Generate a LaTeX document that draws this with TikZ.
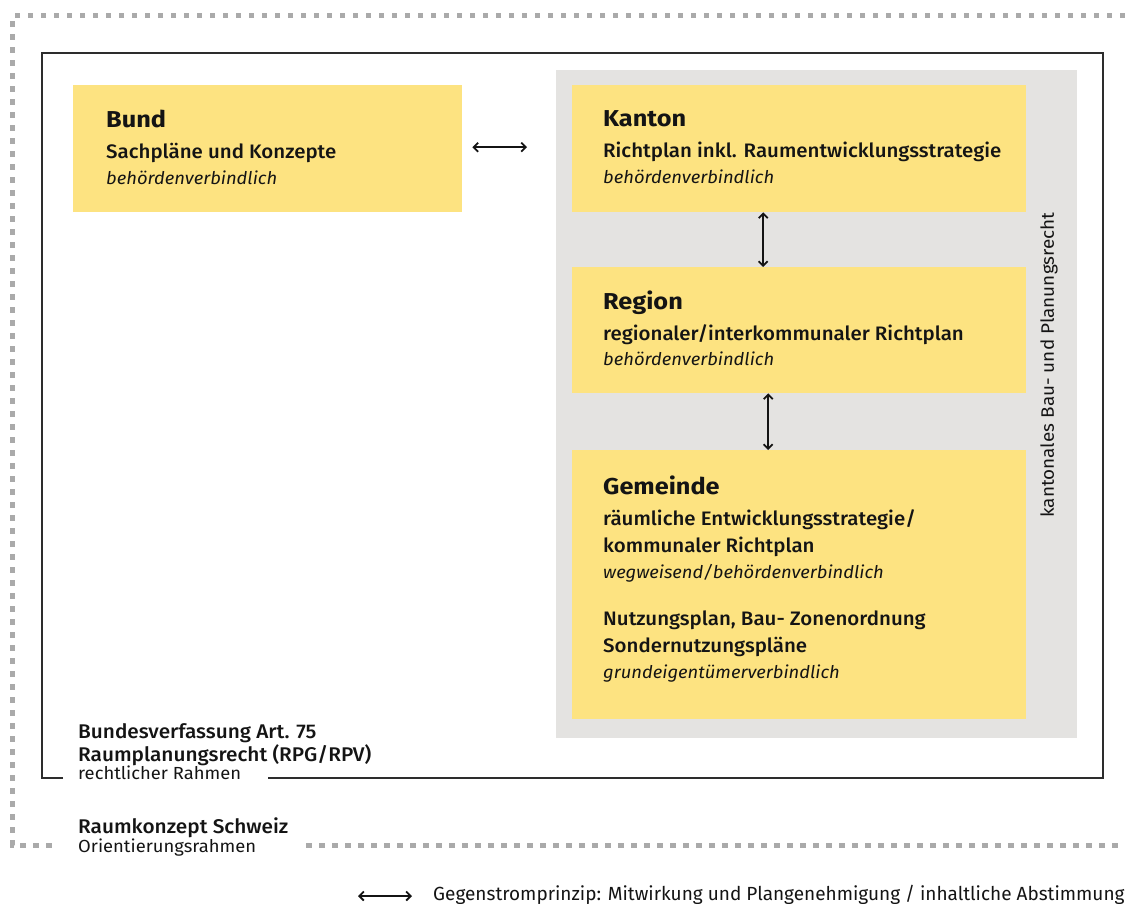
\documentclass[tikz,border=0pt]{standalone}
\usepackage{fontspec}
\usetikzlibrary{arrows.meta}
\setmainfont{Fira Sans}[FakeStretch=1.05]
\newfontfamily\ttlfont{Fira Sans}[FakeStretch=1.1]
\newfontfamily\medfont{Fira Sans Medium}[FakeStretch=1.05]
\newfontfamily\legendfont{Fira Sans}

\definecolor{boxyellow}{RGB}{253,227,129}
\definecolor{kantongray}{RGB}{228,227,225}
\definecolor{framedark}{RGB}{45,45,45}
\definecolor{dotgray}{RGB}{170,170,170}
\definecolor{ink}{RGB}{20,20,20}

\tikzset{
  dotline/.style={draw=dotgray, line width=5.5pt, line cap=butt,
                  dash pattern=on 5.5pt off 7.5pt},
  framebox/.style={draw=framedark, line width=2pt},
  ybox/.style={fill=boxyellow, draw=none, anchor=north west, inner sep=0pt,
               minimum width=454pt},
  graybg/.style={fill=kantongray, draw=none, anchor=north west, inner sep=0pt},
  biarrow/.style={draw=ink, line width=1.8pt,
                  {Straight Barb[length=4.5pt,width=9pt]}-{Straight Barb[length=4.5pt,width=9pt]}},
  txt/.style={anchor=base west, inner sep=0pt, text=ink},
  ttl/.style={txt, font=\ttlfont\bfseries\fontsize{23}{26}\selectfont},
  sub/.style={txt, font=\medfont\fontsize{19.5}{23}\selectfont},
  ital/.style={txt, font=\itshape\fontsize{17.5}{21}\selectfont},
  legal/.style={txt, font=\medfont\fontsize{19.8}{23}\selectfont},
  legalsmall/.style={txt, font=\fontsize{17.5}{21}\selectfont},
}

\begin{document}
\begin{tikzpicture}[x=1pt,y=-1pt]
\useasboundingbox (0,0) rectangle (1125,903);

% outer dotted frame (Orientierungsrahmen)
\draw[dotline] (1125,15.5) -- (12.7,15.5) -- (12.7,845.5) -- (58,845.5);
\draw[dotline] (306,845.5) -- (1125,845.5);

% legal frame (rechtlicher Rahmen)
\draw[framebox] (63,778) -- (42,778) -- (42,53) -- (1103,53) -- (1103,778) -- (268,778);

% cantonal law background
\node[graybg, minimum width=521pt, minimum height=668pt] (kt) at (556,70) {};

% planning levels
\node[ybox, minimum width=389pt, minimum height=127pt] (bund) at (73,85) {};
\node[ybox, minimum height=127pt] (kanton) at (572,85) {};
\node[ybox, minimum height=126pt] (region) at (572,267) {};
\node[ybox, minimum height=269pt] (gemeinde) at (572,450) {};

% Bund
\node[ttl]  (b1) at (106,127) {Bund};
\node[sub]  (b2) at (106,158) {Sachpläne und Konzepte};
\node[ital] (b3) at (106,184) {behördenverbindlich};

% Kanton
\node[ttl]  (k1) at (603,126) {Kanton};
\node[sub]  (k2) at (603,157) {Richtplan inkl. Raumentwicklungsstrategie};
\node[ital] (k3) at (603,183) {behördenverbindlich};

% Region
\node[ttl]  (r1) at (603,309) {Region};
\node[sub]  (r2) at (603,340) {regionaler/interkommunaler Richtplan};
\node[ital] (r3) at (603,365) {behördenverbindlich};

% Gemeinde
\node[ttl]  (g1) at (603,494) {Gemeinde};
\node[sub]  (g2) at (603,525) {räumliche Entwicklungsstrategie/};
\node[sub]  (g3) at (603,552) {kommunaler Richtplan};
\node[ital] (g4) at (603,578) {wegweisend/behördenverbindlich};
\node[sub]  (g5) at (603,625) {Nutzungsplan, Bau- Zonenordnung};
\node[sub]  (g6) at (603,652) {Sondernutzungspläne};
\node[ital] (g7) at (603,678) {grundeigentümerverbindlich};

% vertical label of the cantonal background
\node[inner sep=0pt, text=ink, rotate=90, font=\fontsize{18}{21}\selectfont]
  (ktlabel) at (1049,365) {kantonales Bau- und Planungsrecht};

% counter-flow arrows
\draw[biarrow] ([xshift=10pt,yshift=1.5pt]bund.east) -- ([xshift=-45pt,yshift=1.5pt]kanton.west);
\draw[biarrow] ([xshift=-36pt]kanton.south) -- ([xshift=-36pt]region.north);
\draw[biarrow] ([xshift=-31pt]region.south) -- ([xshift=-31pt]gemeinde.north);

% frame labels
\node[legal]      (l1) at (78,738) {Bundesverfassung Art. 75};
\node[legal]      (l2) at (78,761) {Raumplanungsrecht (RPG/RPV)};
\node[legalsmall] (l3) at (78,779) {rechtlicher Rahmen};
\node[legal]      (o1) at (78,833) {Raumkonzept Schweiz};
\node[legalsmall] (o2) at (78,852) {Orientierungsrahmen};

% legend
\coordinate (lgA) at (358,896);
\coordinate (lgB) at (412,896);
\draw[biarrow] (lgA) -- (lgB);
\node[txt, font=\legendfont\fontsize{19}{22}\selectfont] (lgtext) at (433,900)
  {Gegenstromprinzip: Mitwirkung und Plangenehmigung / inhaltliche Abstimmung};
\end{tikzpicture}
\end{document}
